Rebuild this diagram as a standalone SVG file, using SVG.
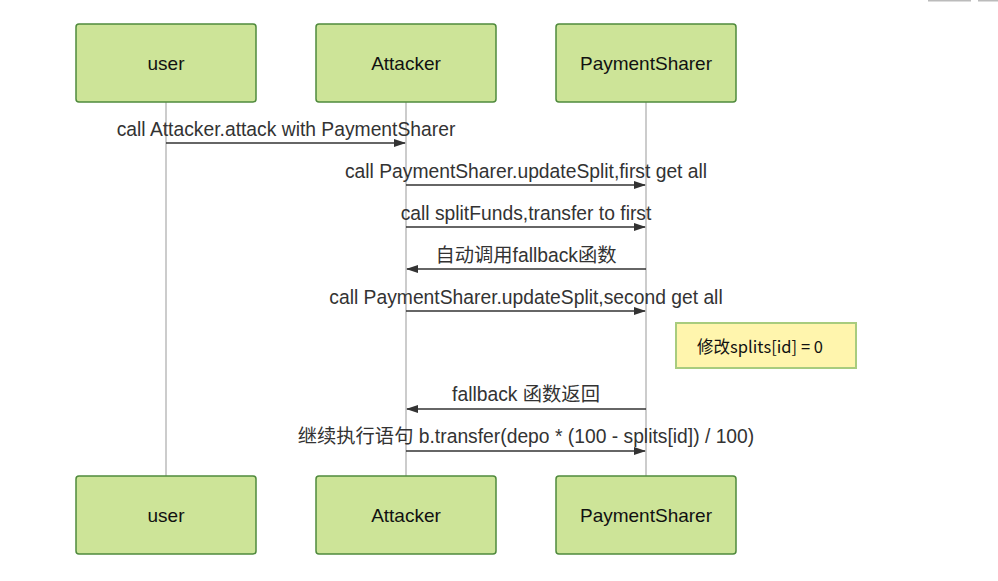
<svg xmlns="http://www.w3.org/2000/svg" width="998" height="581" viewBox="0 0 998 581">
<style>
.actor rect{fill:#cde498;stroke:#4f8a3c;stroke-width:1.5}
.actor text{font-family:"Liberation Sans","Noto Sans CJK SC",sans-serif;font-size:19px;fill:#111;text-anchor:middle}
.life{stroke:#cccccc;stroke-width:2}
.msg line{stroke:#333;stroke-width:1.5}
.msg text{font-family:"Liberation Sans","Noto Sans CJK SC",sans-serif;font-size:19.3px;fill:#333;text-anchor:middle}
.note rect{fill:#fff5ad;stroke:#a8cc7e;stroke-width:2}
.note text{font-family:"Noto Sans CJK SC","Liberation Sans",sans-serif;font-size:16.5px;fill:#111}
</style>
<defs>
<marker id="ah" markerWidth="12" markerHeight="8" refX="11" refY="4" orient="auto" markerUnits="userSpaceOnUse">
<path d="M0,0 L12,4 L0,8 z" fill="#333"/>
</marker>
</defs>
<rect width="998" height="581" fill="#fff"/>
<rect x="928" y="0" width="43" height="1.5" fill="#bbb"/>
<rect x="978" y="0" width="20" height="1.5" fill="#bbb"/>
<g id="lifelines">
<line class="life" x1="166" y1="102" x2="166" y2="476"/>
<line class="life" x1="406" y1="102" x2="406" y2="476"/>
<line class="life" x1="646" y1="102" x2="646" y2="476"/>
</g>
<g id="user-top" class="actor"><rect x="76" y="24" width="180" height="78" rx="3"/><text x="166" y="70">user</text></g>
<g id="attacker-top" class="actor"><rect x="316" y="24" width="180" height="78" rx="3"/><text x="406" y="70">Attacker</text></g>
<g id="sharer-top" class="actor"><rect x="556" y="24" width="180" height="78" rx="3"/><text x="646" y="70">PaymentSharer</text></g>
<g id="user-bottom" class="actor"><rect x="76" y="476" width="180" height="78" rx="3"/><text x="166" y="522">user</text></g>
<g id="attacker-bottom" class="actor"><rect x="316" y="476" width="180" height="78" rx="3"/><text x="406" y="522">Attacker</text></g>
<g id="sharer-bottom" class="actor"><rect x="556" y="476" width="180" height="78" rx="3"/><text x="646" y="522">PaymentSharer</text></g>
<g id="note" class="note"><rect x="676" y="323" width="180" height="45"/><text x="697" y="353" textLength="126" lengthAdjust="spacing">修改splits[id] = 0</text></g>
<g id="connectors" class="msg">
<line x1="166" y1="143" x2="405" y2="143" marker-end="url(#ah)"/>
<text x="286" y="136">call Attacker.attack with PaymentSharer</text>
<line x1="406" y1="185" x2="645" y2="185" marker-end="url(#ah)"/>
<text x="526" y="178">call PaymentSharer.updateSplit,first get all</text>
<line x1="406" y1="227" x2="645" y2="227" marker-end="url(#ah)"/>
<text x="526" y="220">call splitFunds,transfer to first</text>
<line x1="646" y1="269" x2="407" y2="269" marker-end="url(#ah)"/>
<text x="526" y="262">自动调用fallback函数</text>
<line x1="406" y1="311" x2="645" y2="311" marker-end="url(#ah)"/>
<text x="526" y="304">call PaymentSharer.updateSplit,second get all</text>
<line x1="646" y1="409" x2="407" y2="409" marker-end="url(#ah)"/>
<text x="526" y="401">fallback 函数返回</text>
<line x1="406" y1="451" x2="645" y2="451" marker-end="url(#ah)"/>
<text x="526" y="443">继续执行语句 b.transfer(depo * (100 - splits[id]) / 100)</text>
</g>
</svg>
